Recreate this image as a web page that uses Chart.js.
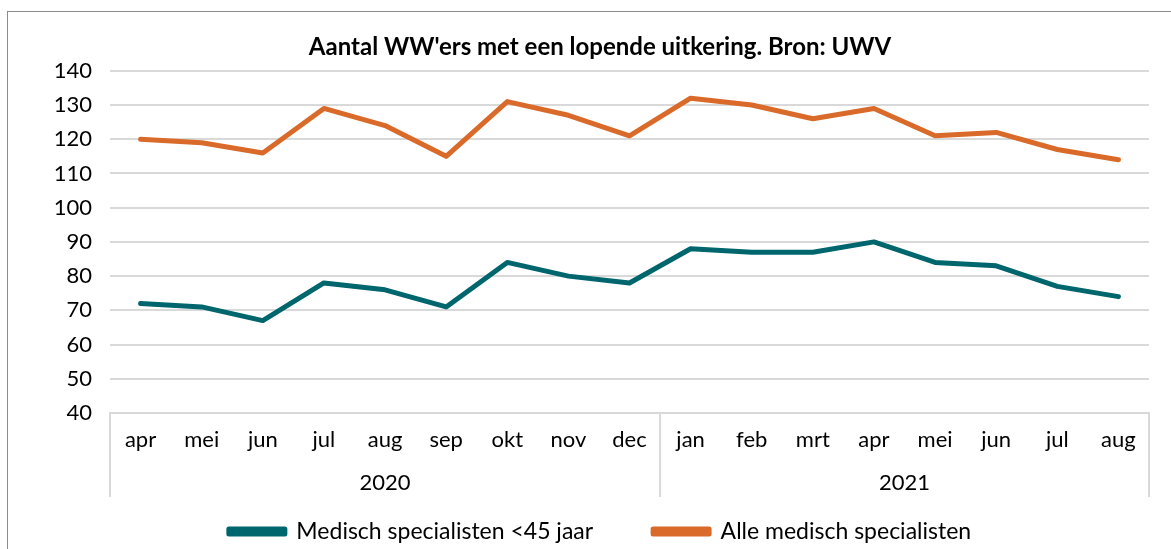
<!DOCTYPE html>
<html>
<head>
<meta charset="utf-8">
<script src="https://cdn.jsdelivr.net/npm/chart.js@4"></script>
<style>
  html, body { margin: 0; padding: 0; background: #fff; }
  #wrap { position: relative; width: 1171px; height: 549px; overflow: hidden; }
  #frame { position: absolute; left: 7px; top: 11px; width: 1180px; height: 560px; border: 1px solid #8c8c8c; box-sizing: border-box; }
  canvas { position: absolute; left: 0; top: 0; }
</style>
</head>
<body>
<div id="wrap">
  <div id="frame"></div>
  <canvas id="chart" width="1171" height="553"></canvas>
</div>
<script>
const months = ['apr', 'mei', 'jun', 'jul', 'aug', 'sep', 'okt', 'nov', 'dec',
                'jan', 'feb', 'mrt', 'apr', 'mei', 'jun', 'jul', 'aug'];
const years = ['2020', '2021'];
const yearStarts = [0, 9]; // index of first month of each year

const jongerDan45 = [72, 71, 67, 78, 76, 71, 84, 80, 78, 88, 87, 87, 90, 84, 83, 77, 74];
const alleSpecialisten = [120, 119, 116, 129, 124, 115, 131, 127, 121, 132, 130, 126, 129, 121, 122, 117, 114];

const teal = 'rgb(0,102,110)';
const orange = 'rgb(218,106,42)';
const gridGrey = '#d9d9d9';
const fontFamily = 'Lato, "Open Sans", sans-serif';

// draws year row + separators under the month labels
const yearGroups = {
  id: 'yearGroups',
  afterDraw(chart) {
    const ctx = chart.ctx;
    const x = chart.scales.x;
    const top = chart.chartArea.bottom;
    const bottom = top + 84;
    const edges = yearStarts.map(i => i === 0 ? x.left : (x.getPixelForValue(i - 1) + x.getPixelForValue(i)) / 2);
    edges.push(x.right);
    ctx.save();
    ctx.strokeStyle = gridGrey;
    ctx.lineWidth = 2;
    edges.forEach(px => {
      ctx.beginPath();
      ctx.moveTo(px, top);
      ctx.lineTo(px, bottom);
      ctx.stroke();
    });
    ctx.fillStyle = '#000';
    ctx.font = '22px ' + fontFamily;
    ctx.textAlign = 'center';
    ctx.textBaseline = 'middle';
    years.forEach((y, i) => {
      ctx.fillText(y, (edges[i] + edges[i + 1]) / 2, top + 70);
    });
    ctx.restore();
  }
};

new Chart(document.getElementById('chart'), {
  type: 'line',
  data: {
    labels: months,
    datasets: [
      {
        label: 'Medisch specialisten <45 jaar',
        data: jongerDan45,
        borderColor: teal,
        backgroundColor: teal,
        borderWidth: 5,
        borderJoinStyle: 'round',
        borderCapStyle: 'round',
        pointRadius: 0,
        tension: 0,
        fill: false
      },
      {
        label: 'Alle medisch specialisten',
        data: alleSpecialisten,
        borderColor: orange,
        backgroundColor: orange,
        borderWidth: 5,
        borderJoinStyle: 'round',
        borderCapStyle: 'round',
        pointRadius: 0,
        tension: 0,
        fill: false
      }
    ]
  },
  options: {
    responsive: false,
    animation: false,
    layout: { padding: { left: 51, right: 22, top: 0, bottom: 0 } },
    plugins: {
      title: {
        display: true,
        text: "Aantal WW'ers met een lopende uitkering. Bron: UWV",
        color: '#000',
        font: { family: fontFamily, size: 24, weight: 'bold' },
        padding: { top: 33, bottom: 9 }
      },
      legend: {
        position: 'bottom',
        labels: {
          color: '#000',
          font: { family: fontFamily, size: 23 },
          boxWidth: 56,
          boxHeight: 5,
          padding: 60
        }
      },
      tooltip: { enabled: false }
    },
    scales: {
      x: {
        offset: true,
        grid: { display: false, drawTicks: false },
        border: { display: true, color: gridGrey, width: 2 },
        ticks: {
          color: '#000',
          font: { family: fontFamily, size: 22 },
          padding: 14,
          maxRotation: 0,
          autoSkip: false
        },
        afterFit(scale) { scale.height = 47; }
      },
      y: {
        min: 40,
        max: 140,
        ticks: {
          stepSize: 10,
          color: '#000',
          font: { family: fontFamily, size: 22 },
          padding: 18
        },
        grid: { color: gridGrey, lineWidth: 2, drawTicks: false },
        border: { display: false },
        afterFit(scale) { scale.width = 59; }
      }
    }
  },
  plugins: [yearGroups]
});
</script>
</body>
</html>
